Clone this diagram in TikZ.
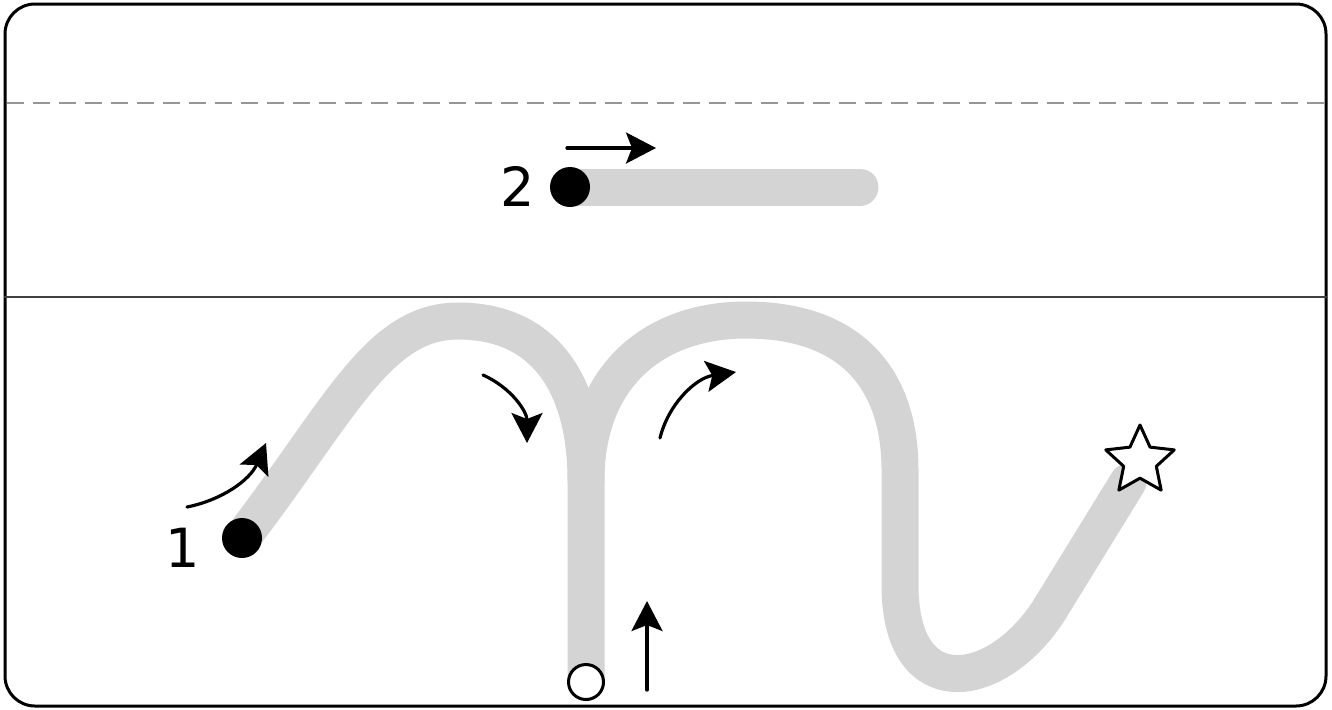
\documentclass[tikz,border=0pt]{standalone}
\usepackage{fontspec}
\setmainfont{DejaVu Sans}
\usetikzlibrary{arrows.meta,shapes.geometric}
\definecolor{tracegray}{RGB}{212,212,212}
\definecolor{guidegray}{RGB}{150,150,150}
\begin{document}
\begin{tikzpicture}[x=0.5pt, y=-0.5pt, line cap=round, line join=round,
  trace/.style={draw=tracegray, line width=18.5pt},
  hint/.style={draw=black, line width=1.6pt, -{Stealth[length=15pt,width=15.5pt,inset=3pt]}},
  startdot/.style={circle, fill=black, inner sep=0pt, minimum size=20pt},
  enddot/.style={circle, draw=black, fill=white, line width=1.5pt, inner sep=0pt, minimum size=17.5pt},
  numlabel/.style={inner sep=0pt, font=\fontsize{27}{27}\selectfont}]
  \useasboundingbox (0,0) rectangle (1332,709);
  \draw[line width=1.5pt, rounded corners=15pt] (5,4) rectangle (1326,706);
  \draw[guidegray, line width=1.2pt, dash pattern=on 8.5pt off 4.5pt, line cap=butt] (7,103) -- (1326,103);
  \draw[black!75, line width=1.2pt] (5,297) -- (1326,297);
  \coordinate (s1) at (242,538);
  \coordinate (s2) at (570,187);
  \coordinate (turn) at (586,682);
  \coordinate (goal) at (1140,461);
  % stroke 2
  \draw[trace] (s2) -- (860,187);
  % stroke 1
  \draw[trace] (s1) .. controls (340,410) and (378,321) .. (458,321)
    .. controls (552,321) and (586,395) .. (586,480) -- (turn);
  \draw[trace] (586,480) .. controls (586,378) and (652,320) .. (746,320)
    .. controls (852,320) and (900,380) .. (900,470) -- (900,585)
    .. controls (900,705) and (995,692) .. (1048,612) -- (1128,482);
  \node[startdot] (dotone) at (s1) {};
  \node[startdot] (dottwo) at (s2) {};
  \node[enddot] (back) at (turn) {};
  \node[star, star points=5, star point ratio=2.1, draw=black, fill=white,
    line width=1.5pt, inner sep=0pt, minimum size=36pt] (finish) at (goal) {};
  \node[numlabel] (one) at (183,548) {1};
  \node[numlabel] (two) at (518,186) {2};
  \draw[hint] (187,507) .. controls (222,500) and (250,480) .. (266,443);
  \draw[hint] (483,375) .. controls (512,388) and (527,412) .. (527,443);
  \draw[hint] (660,438) .. controls (668,405) and (695,378) .. (736,372);
  \draw[hint] (567,148) -- (656,148);
  \draw[hint] (647,690) -- (647,601);
\end{tikzpicture}
\end{document}
